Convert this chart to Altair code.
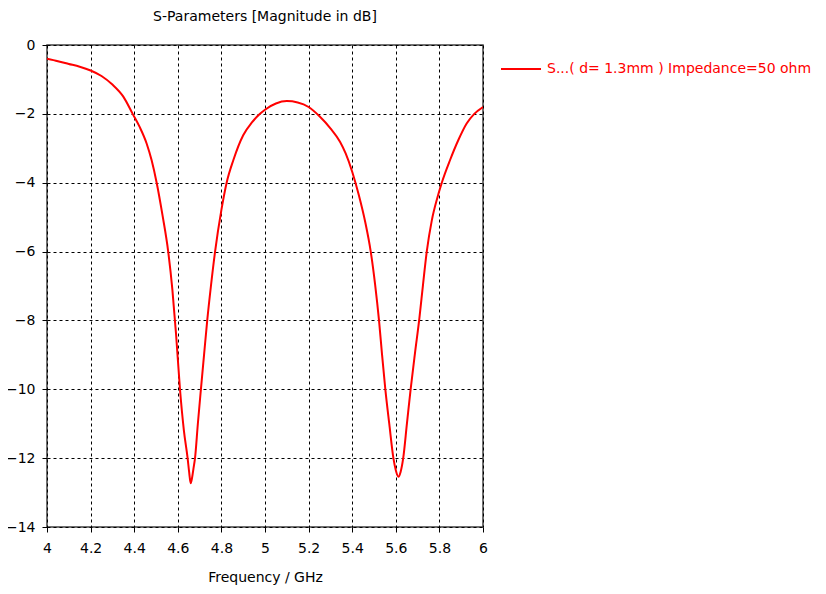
import altair as alt
import pandas as pd

freq = [4.00, 4.05, 4.10, 4.15, 4.20, 4.25, 4.30, 4.35, 4.393, 4.425, 4.457, 4.48, 4.503, 4.53,
        4.556, 4.575, 4.592, 4.61, 4.628, 4.645, 4.652, 4.659, 4.666, 4.672, 4.679, 4.692,
        4.706, 4.72, 4.735, 4.752, 4.771, 4.80, 4.824, 4.855, 4.90, 4.94, 4.977,
        5.00, 5.05, 5.10, 5.15, 5.20, 5.25, 5.30, 5.344, 5.37, 5.40, 5.43, 5.46, 5.485, 5.505,
        5.523, 5.537, 5.552, 5.57, 5.589, 5.60, 5.612, 5.622, 5.634, 5.651, 5.668, 5.688,
        5.708, 5.725, 5.742, 5.765, 5.79, 5.811, 5.849, 5.887, 5.925, 5.96, 6.00]
s11_db = [-0.40, -0.47, -0.55, -0.63, -0.74, -0.90, -1.15, -1.50, -2.00, -2.38, -2.86, -3.35, -4.00, -4.95,
          -6.00, -7.10, -8.40, -10.00, -11.20, -12.00, -12.40, -12.73, -12.55, -12.30, -12.00, -11.00,
          -10.00, -9.03, -8.00, -7.00, -6.00, -4.79, -4.00, -3.34, -2.62, -2.25, -2.00,
          -1.88, -1.70, -1.63, -1.67, -1.80, -2.07, -2.42, -2.81, -3.15, -3.68, -4.35, -5.15, -6.00, -6.95,
          -8.00, -9.00, -10.00, -11.00, -12.00, -12.35, -12.54, -12.40, -12.00, -11.00, -10.00, -8.95,
          -7.95, -6.95, -6.00, -5.10, -4.45, -4.00, -3.34, -2.76, -2.28, -2.00, -1.80]
series_name = "S...( d= 1.3mm ) Impedance=50 ohm"
x_ticks = [4.0, 4.2, 4.4, 4.6, 4.8, 5.0, 5.2, 5.4, 5.6, 5.8, 6.0]
y_ticks = [0, -2, -4, -6, -8, -10, -12, -14]

df = pd.DataFrame({"f": freq, "db": s11_db, "s": series_name})

FONT = "DejaVu Sans"

chart = alt.Chart(df).mark_line(strokeWidth=2, interpolate="monotone", clip=True).encode(
    x=alt.X("f:Q", scale=alt.Scale(domain=[4, 6], nice=False, zero=False),
            axis=alt.Axis(values=x_ticks, title="Frequency / GHz", labelFlush=False,
                          labelExpr="format(datum.value, '~g')")),
    y=alt.Y("db:Q", scale=alt.Scale(domain=[-14, 0], nice=False, zero=False),
            axis=alt.Axis(values=y_ticks, title=None, labelFlush=False)),
    color=alt.Color("s:N", scale=alt.Scale(domain=[series_name], range=["#ff0000"]),
                    legend=alt.Legend(title=None, orient="none", legendX=453, legendY=3,
                                      symbolType="stroke", symbolSize=1600, symbolStrokeWidth=2,
                                      labelColor="#ff0000", labelFont=FONT, labelFontSize=14,
                                      labelLimit=400, labelOffset=5)),
).properties(
    width=436, height=482,
    title=alt.TitleParams("S-Parameters [Magnitude in dB]", font=FONT, fontSize=14,
                          fontWeight="normal", color="#000000", anchor="middle", offset=14),
    autosize=alt.AutoSizeParams(type="none"),
    padding={"left": 39, "top": 37, "right": 330, "bottom": 62},
).configure_view(
    stroke="#404040", strokeWidth=1.5
).configure_axis(
    grid=True, gridColor="#000000", gridDash=[3, 3], gridWidth=1, gridOpacity=1,
    domain=False, tickColor="#000000", tickSize=5,
    labelFont=FONT, labelFontSize=14, labelColor="#000000",
    titleFont=FONT, titleFontSize=14, titleFontWeight="normal", titleColor="#000000",
).configure_axisX(labelPadding=9, titlePadding=15).configure_axisY(labelPadding=7)

chart.save("out.html", embed_options={"renderer": "svg", "actions": False})
